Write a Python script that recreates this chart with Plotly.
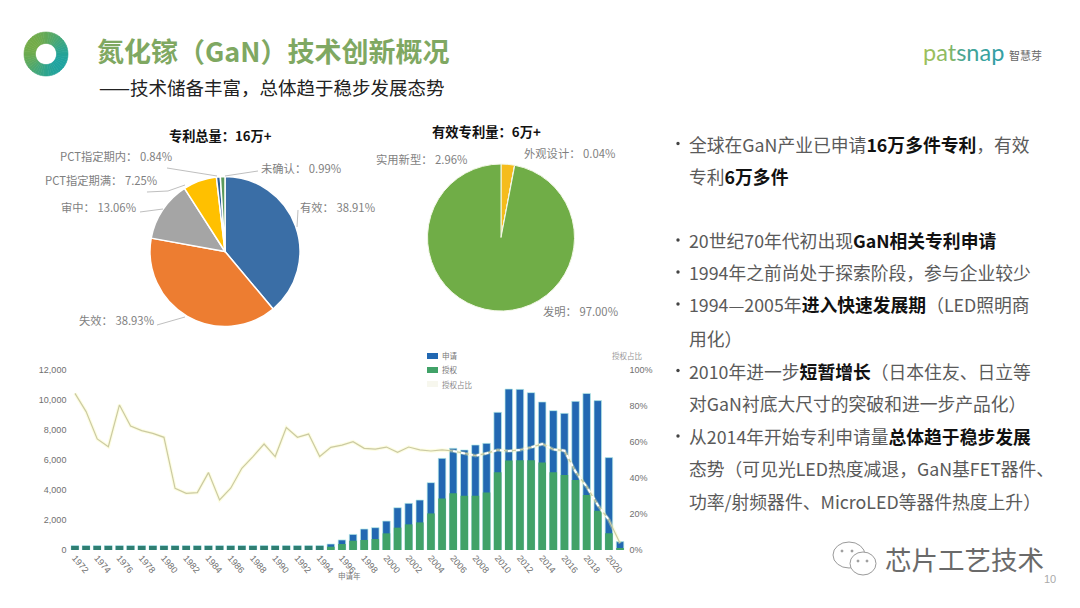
import math
import plotly.graph_objects as go

W, H = 1080, 608
CJK = "Noto Sans CJK SC"

# ---------- data ----------
years = list(range(1972, 2022))
applications = [300] * 23 + [400, 670, 1040, 1400, 1490, 1930, 2820, 3110, 3330, 4490, 6110, 6780, 6670,
                             7000, 7110, 9180, 10730, 10710, 10490, 9870, 9290, 9110, 9910, 10440, 9960, 6160, 560]
grants = [270] * 23 + [220, 400, 620, 670, 730, 1110, 1490, 1710, 1840, 2440, 3440, 3780, 3620,
                       3620, 3840, 5180, 5960, 5980, 5980, 5840, 5180, 5000, 4670, 3670, 2620, 1110, 110]
grant_share = [87, 76.9, 61.7, 57.4, 80.6, 68.9, 66.3, 64.8, 62.6, 34.3, 31.5, 31.9, 43, 27.8, 34.3, 45.4,
               51.9, 58.9, 51.9, 68, 62.6, 64.4, 51.9, 57, 58.3, 60.2, 56.5, 56, 57.2, 54.3, 57.2, 55.6,
               55, 55.6, 55, 53.7, 52.4, 53.7, 55.6, 55, 55.6, 57, 58.9, 55.9, 55.2, 43.5, 35.2, 25, 16.7, 3.7]

status_labels = ["有效", "失效", "审中", "PCT指定期满", "PCT指定期内", "未确认"]
status_values = [38.91, 38.93, 13.06, 7.25, 0.84, 0.99]
status_colors = ["#3A6EA6", "#ED7D31", "#A5A5A5", "#FFC000", "#2F5F97", "#5B9A5B"]

valid_labels = ["实用新型", "外观设计", "发明"]
valid_values = [2.96, 0.04, 97.00]
valid_colors = ["#F5BC1C", "#3A6EA6", "#70AD47"]

bullets = [
    (143.5, True, '全球在GaN产业已申请<b>16万多件专利</b>，有效'),
    (175.5, False, '专利<b>6万多件</b>'),
    (240, True, '20世纪70年代初出现<b>GaN相关专利申请</b>'),
    (272, True, '1994年之前尚处于探索阶段，参与企业较少'),
    (304, True, '1994—2005年<b>进入快速发展期</b>（LED照明商'),
    (337.5, False, '用化）'),
    (370.5, True, '2010年进一步<b>短暂增长</b>（日本住友、日立等'),
    (403, False, '对GaN衬底大尺寸的突破和进一步产品化）'),
    (436, True, '从2014年开始专利申请量<b>总体趋于稳步发展</b>'),
    (468, False, '态势（可见光LED热度减退，GaN基FET器件、'),
    (500.5, False, '功率/射频器件、MicroLED等器件热度上升）'),
]


# ---------- helpers ----------
def px(x): return x / W
def py(y): return 1 - y / H


anns, shapes = [], []


def text(x, y, s, size=12, color="#7F7F7F", anchor="left", family=CJK):
    anns.append(dict(x=px(x), y=py(y), xref="paper", yref="paper", text=s, showarrow=False,
                     xanchor=anchor, yanchor="middle", align=anchor, borderpad=0,
                     font=dict(size=size, color=color, family=family)))


def leader(points, color="#BFBFBF"):
    d = "M" + " L".join(f"{px(a):.5f},{py(b):.5f}" for a, b in points)
    shapes.append(dict(type="path", path=d, xref="paper", yref="paper",
                       line=dict(color=color, width=1)))


def disc(x0, y0, x1, y1, line="#9A9A9A", fill="rgba(0,0,0,0)", width=1):
    shapes.append(dict(type="circle", xref="paper", yref="paper", x0=px(x0), x1=px(x1),
                       y0=py(y1), y1=py(y0), line=dict(color=line, width=width), fillcolor=fill))


def swatch(x0, y0, x1, y1, fill):
    shapes.append(dict(type="rect", xref="paper", yref="paper", x0=px(x0), x1=px(x1),
                       y0=py(y1), y1=py(y0), line=dict(width=0), fillcolor=fill))


def pie_domain(cx, cy, r):
    return dict(x=[px(cx - r), px(cx + r)], y=[py(cy + r), py(cy - r)])


fig = go.Figure()

# ---------- logo ring ----------
n = 48
ring_colors = []
for i in range(n):
    a = 2 * math.pi * (i + 0.5) / n
    t = (1 + 0.8 * math.sin(a) - 0.6 * math.cos(a)) / 2
    c0, c1 = (116, 172, 72), (30, 163, 160)
    ring_colors.append("rgb(%d,%d,%d)" % tuple(c0[k] + (c1[k] - c0[k]) * t for k in range(3)))
fig.add_trace(go.Pie(values=[1] * n, sort=False, direction="clockwise", rotation=0, hole=0.48,
                     domain=pie_domain(46, 54, 22), textinfo="none", hoverinfo="skip", showlegend=False,
                     marker=dict(colors=ring_colors, line=dict(color=ring_colors, width=0.6))))

# ---------- pies ----------
fig.add_trace(go.Pie(labels=status_labels, values=status_values, sort=False, direction="clockwise", rotation=0,
                     domain=pie_domain(225, 251.5, 75), textinfo="none", showlegend=False,
                     marker=dict(colors=status_colors, line=dict(color="white", width=1.5))))
fig.add_trace(go.Pie(labels=valid_labels, values=valid_values, sort=False, direction="clockwise", rotation=0,
                     domain=pie_domain(501, 237.5, 73.5), textinfo="none", showlegend=False,
                     marker=dict(colors=valid_colors, line=dict(color="#F4F8E8", width=1))))

# ---------- combo chart ----------
halo = "rgba(185,238,232,0.7)"
grant_colors = ["#2F7F72" if y < 1995 else "#41A268" for y in years]
fig.add_trace(go.Bar(x=years, y=applications, name="申请", width=0.68, showlegend=False,
                     marker=dict(color="#2268B2", line=dict(color=halo, width=1))))
fig.add_trace(go.Bar(x=years, y=grants, name="授权", width=0.68, showlegend=False,
                     marker=dict(color=grant_colors, line=dict(color=halo, width=0))))
fig.add_trace(go.Scatter(x=years, y=grant_share, mode="lines", yaxis="y2", showlegend=False, hoverinfo="skip",
                         line=dict(color="rgba(250,250,170,0.35)", width=3.5)))
fig.add_trace(go.Scatter(x=years, y=grant_share, name="授权占比", mode="lines", yaxis="y2", showlegend=False,
                         line=dict(color="#CBCAA2", width=1.2)))
fig.add_trace(go.Scatter(x=years[34:49], y=grant_share[34:49], mode="lines", yaxis="y2", showlegend=False,
                         hoverinfo="skip", line=dict(color="white", width=2, dash="4px,4px")))

# legend drawn by hand: the native one cannot get this swatch shape and row spacing
swatch(427, 353, 438, 359, "#2268B2")
swatch(427, 367, 438, 373, "#41A268")
swatch(427, 381, 438, 387, "#F7F7EE")
text(441, 355, "申请", 7.5, "#777777")
text(441, 369, "授权", 7.5, "#777777")
text(441, 384, "授权占比", 7.5, "#8A8A8A")

# ---------- text ----------
text(96, 50, "<b>氮化镓（GaN）技术创新概况</b>", 27, "#7FA862")
text(98, 87, "——技术储备丰富，总体趋于稳步发展态势", 18.5, "#222222")
p_letters = "".join(f'<span style="color:{c}">{l}</span>' for l, c in zip(
    "patsnap", ["#9CBF5C", "#8FBB62", "#7FB56A", "#4FA78E", "#40A49A", "#38A2A0", "#34A0A4"]))
text(922, 52, p_letters, 23.5, family="Lato")
text(1008, 55, "智慧芽", 11, "#666666")

text(220, 135, "<b>专利总量：16万+</b>", 13.2, "#111111", "center")
text(486.5, 132, "<b>有效专利量：6万+</b>", 13.3, "#111111", "center")
LS = 11.3
text(59, 156, "PCT指定期内： 0.84%", LS)
text(44, 180, "PCT指定期满： 7.25%", LS)
text(60, 207, "审中： 13.06%", LS)
text(260, 168, "未确认： 0.99%", LS)
text(299, 207, "有效： 38.91%", LS)
text(78, 320, "失效： 38.93%", LS)
text(375, 159, "实用新型： 2.96%", LS)
text(523, 153, "外观设计： 0.04%", LS)
text(542, 311, "发明： 97.00%", LS)
leader([(167, 168), (217, 176)])
leader([(147, 192), (168, 191), (185, 185)])
leader([(140, 212), (163, 209)])
leader([(225, 176), (258, 171)])
leader([(297, 227), (298, 210)])
leader([(157, 325), (185, 317)])

text(337, 575, "申请年", 7.5, "#777777")
text(611, 355, "授权占比", 7.5, "#999999")

for y, has_bullet, s in bullets:
    if has_bullet:
        disc(676.3, y - 1.7, 679.7, y + 1.7, line="#444444", fill="#444444", width=0)
    body = s.replace("<b>", '<b style="color:#111111">')
    text(688, y, f'<span style="color:#5A5A5A">{body}</span>', 17.8, "#5A5A5A")

# ---------- WeChat watermark ----------
disc(833, 542, 865, 568)
disc(850, 552, 876, 575, fill="white")
for ex, ey in [(842, 551), (852, 551), (858, 561), (867, 561)]:
    disc(ex - 1, ey - 1, ex + 1, ey + 1, fill="#9A9A9A")
text(884, 558, "芯片工艺技术", 26.5, "#6A6A6A")
text(1043, 579, "10", 11, "#AAAAAA", family="Liberation Sans")

# ---------- layout ----------
tick_font = dict(size=9, color="#707070", family="Liberation Sans")
fig.update_layout(
    width=W, height=H, autosize=False, margin=dict(l=0, r=0, t=0, b=0, autoexpand=False),
    paper_bgcolor="white", plot_bgcolor="rgba(0,0,0,0)", barmode="overlay", showlegend=False,
    font=dict(family=CJK),
    xaxis=dict(domain=[px(69.4), px(625.6)], range=[1971.5, 2021.5], tick0=1972, dtick=2, tickangle=50,
               showgrid=False, zeroline=False, showline=False, ticks="", tickfont=tick_font, anchor="y"),
    yaxis=dict(domain=[py(550), py(370)], range=[0, 12000], tickvals=[0, 2000, 4000, 6000, 8000, 10000, 12000],
               tickformat=",d", showgrid=False, zeroline=False, showline=False, ticks="", tickfont=tick_font,
               ticklabelstandoff=2),
    yaxis2=dict(domain=[py(550), py(370)], range=[0, 100], overlaying="y", side="right", dtick=20, ticksuffix="%",
                showgrid=False, zeroline=False, showline=False, ticks="", tickfont=tick_font,
                ticklabelstandoff=3),
    annotations=anns, shapes=shapes,
)

fig.write_html("out.html", config=dict(displayModeBar=False),
               post_script="document.body.style.margin='0';document.body.style.overflow='hidden';")
